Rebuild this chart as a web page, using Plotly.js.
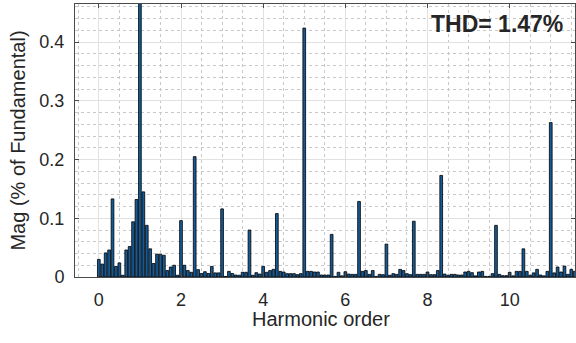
<!DOCTYPE html>
<html>
<head>
<meta charset="utf-8">
<script src="https://cdn.plot.ly/plotly-3.0.1.min.js"></script>
<style>
  html, body { margin: 0; padding: 0; background: #ffffff; }
  #chart { width: 576px; height: 343px; }
</style>
</head>
<body>
<div id="chart"></div>
<script>
// FFT spectrum, 12 bins per harmonic (bin k sits at harmonic order k / 12).
const BINS_PER_HARMONIC = 12;

// Magnitude of each bin in % of the fundamental (bin 12 is the fundamental itself).
const magnitude = [
  0.030, 0.022, 0.041, 0.046, 0.133, 0.018, 0.024, 0.003, 0.046, 0.052, 0.094, 0.132,
  100,   0.145, 0.088, 0.048, 0.023, 0.039, 0.0385, 0.037, 0.011, 0.017, 0.020, 0.003,
  0.096, 0.020, 0.011, 0.008, 0.205, 0.0125, 0.006, 0.009, 0.006, 0.018, 0.007, 0.007,
  0.116, 0.001, 0.0096, 0.006, 0.0034, 0.003, 0.008, 0.008, 0.080, 0.003, 0.0074, 0.005,
  0.018, 0.008, 0.011, 0.013, 0.108, 0.0096, 0.0085, 0.0057, 0.0057, 0.0057, 0.004, 0.0057,
  0.424, 0.0096, 0.0096, 0.0085, 0.0085, 0.0034, 0.0034, 0.0034, 0.0726, 0.001, 0.008, 0.002,
  0.009, 0.005, 0.0045, 0.0045, 0.1287, 0.0096, 0.011, 0.0045, 0.011, 0.001, 0.0045, 0.004,
  0.056, 0.003, 0.0057, 0.0045, 0.013, 0.011, 0.0057, 0.004, 0.095, 0.0045, 0.0045, 0.0045,
  0.0085, 0.004, 0.004, 0.011, 0.173, 0.005, 0.003, 0.0045, 0.0045, 0.0034, 0.0034, 0.0085,
  0.0096, 0.0074, 0.002, 0.0085, 0.0096, 0.001, 0.001, 0.0057, 0.088, 0.0045, 0.0023, 0.0023,
  0.008, 0.002, 0.0096, 0.0096, 0.048, 0.0096, 0.003, 0.007, 0.013, 0.0034, 0.002, 0.0096,
  0.263, 0.007, 0.017, 0.0085, 0.0187, 0.0045, 0.013, 0.0096
];

const harmonicOrder = magnitude.map((_, k) => k / BINS_PER_HARMONIC);

const xTicks = [0, 2, 4, 6, 8, 10];
const yTicks = [0, 0.1, 0.2, 0.3, 0.4];
const yTickLabels = ['0', '0.1', '0.2', '0.3', '0.4'];
const xTitle = 'Harmonic order';
const yTitle = 'Mag (% of Fundamental)';
const thdLabel = 'THD= 1.47%';

const INK = '#262626';
const FONT = 'Liberation Sans, Arial, sans-serif';

const trace = {
  type: 'bar',
  x: harmonicOrder,
  y: magnitude,
  width: 0.8 / BINS_PER_HARMONIC,
  marker: { color: '#155a96', line: { color: '#000000', width: 0.8 } },
  hoverinfo: 'skip'
};

const axisCommon = {
  showline: true,
  mirror: 'ticks',
  linecolor: '#4a4a4a',
  linewidth: 1,
  ticks: 'inside',
  ticklen: 4,
  tickcolor: '#4a4a4a',
  showgrid: true,
  gridcolor: '#e1e1e1',
  gridwidth: 1,
  zeroline: false,
  tickfont: { family: FONT, size: 18, color: INK }
};

const layout = {
  width: 576,
  height: 343,
  margin: { l: 75, r: 1, t: 4, b: 66 },
  paper_bgcolor: '#ffffff',
  plot_bgcolor: '#ffffff',
  showlegend: false,
  bargap: 0,
  xaxis: Object.assign({}, axisCommon, {
    range: [-0.58, 11.59],
    tickmode: 'array',
    tickvals: xTicks,
    ticktext: xTicks.map(String),
    ticklabelstandoff: 6,
    minor: { dtick: 0.5, showgrid: true, griddash: 'dot', gridcolor: '#c8c8c8', gridwidth: 1, ticks: '' }
  }),
  yaxis: Object.assign({}, axisCommon, {
    range: [0, 0.465],
    tickmode: 'array',
    tickvals: yTicks,
    ticktext: yTickLabels,
    ticklabelstandoff: 6,
    minor: { dtick: 0.02, showgrid: true, griddash: 'dot', gridcolor: '#c8c8c8', gridwidth: 1, ticks: '' },
    title: { text: yTitle, font: { family: FONT, size: 20, color: INK }, standoff: 8 }
  }),
  annotations: [
    {
      // x-axis title under the tick labels
      xref: 'paper', yref: 'paper',
      x: 0.492, y: -0.155,
      xanchor: 'center', yanchor: 'middle',
      text: xTitle,
      showarrow: false,
      font: { family: FONT, size: 20, color: INK }
    },
    {
      xref: 'paper', yref: 'paper',
      x: 0.98, y: 0.926,
      xanchor: 'right', yanchor: 'middle',
      text: '<b>' + thdLabel + '</b>',
      showarrow: false,
      font: { family: FONT, size: 23, color: INK }
    }
  ]
};

Plotly.newPlot('chart', [trace], layout, { staticPlot: true, displayModeBar: false });
</script>
</body>
</html>
